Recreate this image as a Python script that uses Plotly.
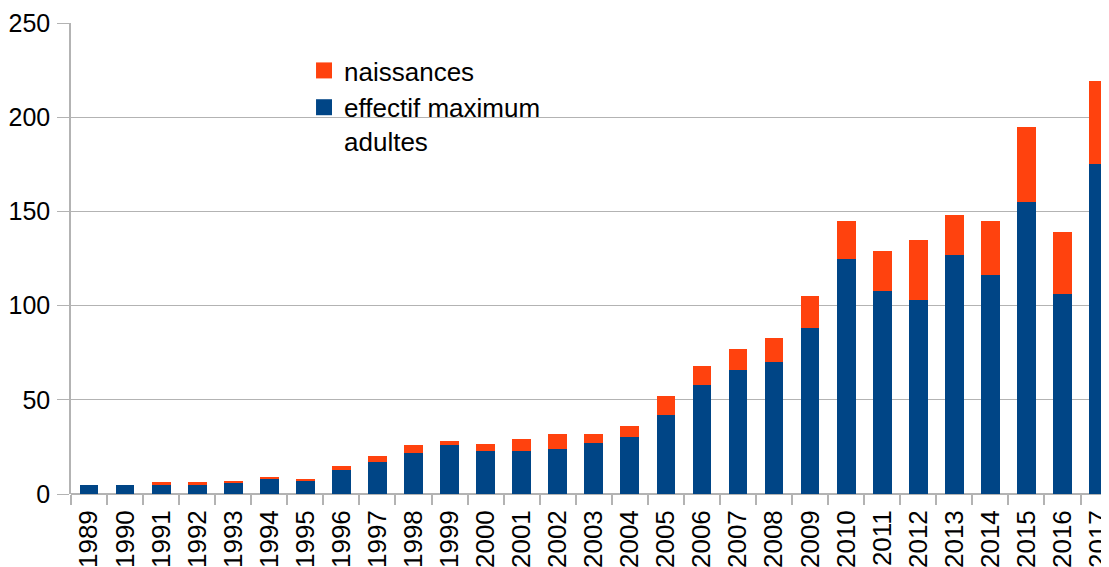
import plotly.graph_objects as go

years = [str(y) for y in range(1989, 2018)]
adultes = [5, 5, 4.6, 4.6, 6, 8, 7, 13, 17, 22, 26, 23, 22.6, 24, 27, 30, 42, 58, 66, 70, 88,
           125, 108, 103, 127, 116, 155, 106, 175]
totaux = [5, 5, 6.2, 6.2, 7, 9, 8, 15, 20, 26, 28, 26.5, 29, 32, 32, 36, 52, 68, 77, 83, 105,
          145, 129, 135, 148, 145, 195, 139, 219]
naissances = [round(t - a, 1) for t, a in zip(totaux, adultes)]

BLUE = "#004586"
ORANGE = "#ff420e"
GRID = "#b3b3b3"
FONT = "Liberation Sans, Arial, sans-serif"

fig = go.Figure()
fig.add_trace(go.Bar(x=years, y=adultes, name="effectif maximum<br>adultes",
                     marker=dict(color=BLUE, line=dict(width=0)), width=0.52, showlegend=False))
fig.add_trace(go.Bar(x=years, y=naissances, name="naissances",
                     marker=dict(color=ORANGE, line=dict(width=0)), width=0.52, showlegend=False))
# legend entries
fig.add_trace(go.Scatter(x=[None], y=[None], mode="markers", name="naissances",
                         marker=dict(symbol="square", size=16, color=ORANGE)))
fig.add_trace(go.Scatter(x=[None], y=[None], mode="markers", name="effectif maximum<br>adultes",
                         marker=dict(symbol="square", size=16, color=BLUE)))

fig.update_layout(
    width=1101, height=559,
    barmode="stack",
    plot_bgcolor="white", paper_bgcolor="white",
    margin=dict(l=63, r=0, t=15, b=73, pad=0, autoexpand=False),
    font=dict(family=FONT, size=26, color="black"),
    legend=dict(x=0.2245, y=0.949, xanchor="left", yanchor="top",
                font=dict(family=FONT, size=26, color="black"),
                valign="top", bgcolor="rgba(0,0,0,0)", traceorder="normal",
                itemsizing="trace"),
    xaxis=dict(type="category", range=[-0.5, 28.29], showgrid=False, automargin=False,
               showline=False, ticks="outside", tickson="boundaries",
               ticklen=10, tickcolor=GRID, tickwidth=1.5, tickangle=-90,
               ticklabelstandoff=10,
               tickfont=dict(family=FONT, size=26, color="black"), zeroline=False),
    yaxis=dict(range=[0, 250], dtick=50, showgrid=True, gridcolor=GRID, gridwidth=1.2,
               automargin=False,
               showline=True, linecolor=GRID, linewidth=1.5, ticks="outside",
               ticklen=12, tickcolor=GRID, tickwidth=1.2, zeroline=True,
               zerolinecolor=GRID, zerolinewidth=1.5, ticklabelstandoff=2,
               tickfont=dict(family=FONT, size=25, color="black")),
)

fig.write_html("out.html")
